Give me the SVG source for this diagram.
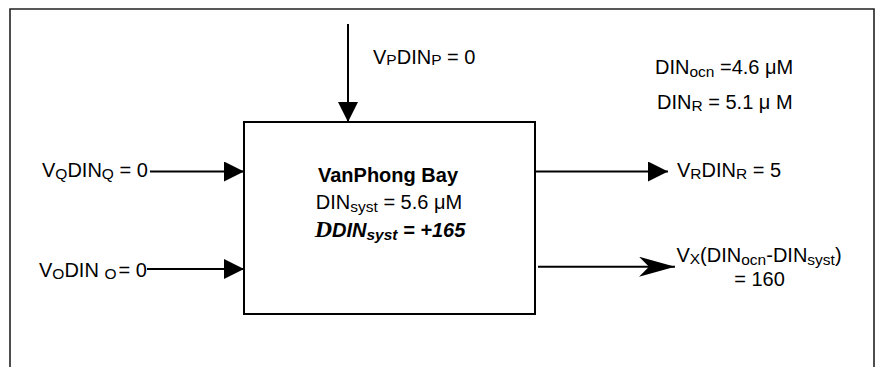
<svg xmlns="http://www.w3.org/2000/svg" width="876" height="367" viewBox="0 0 876 367">
<style>
text{font-family:"Liberation Sans",Arial,sans-serif;font-size:20px;fill:#000}
.b{font-weight:bold}
.bi{font-weight:bold;font-style:italic}
.delta{font-family:"Liberation Serif","Times New Roman",serif;font-weight:bold;font-style:italic;font-size:24px}
.s{font-size:15.5px}
.ln{stroke:#000;stroke-width:2;fill:none}
.frame{stroke:#222;stroke-width:1.6;fill:none}
</style>
<defs>
<marker id="tri" markerUnits="userSpaceOnUse" viewBox="0 0 20 20" markerWidth="20" markerHeight="20" refX="20" refY="10" orient="auto">
<path d="M0,0 L20,10 L0,20 z" fill="#000"/>
</marker>
<marker id="stealth" markerUnits="userSpaceOnUse" viewBox="0 0 36 20" markerWidth="36" markerHeight="20" refX="36" refY="10" orient="auto">
<path d="M0,0 L36,10 L0,20 L10,10 z" fill="#000"/>
</marker>
</defs>
<g id="frame">
<polyline class="frame" points="10,367 10,9 874,9 874,367"/>
</g>
<g id="bay">
<rect class="ln" x="244" y="122" width="291" height="192" fill="#fff"/>
<text class="b" x="388" y="182" text-anchor="middle">VanPhong Bay</text>
<text x="389" y="209" text-anchor="middle">DIN<tspan class="s" dy="3">syst</tspan><tspan dy="-3"> = 5.6 μM</tspan></text>
<text class="bi" x="390" y="237" text-anchor="middle"><tspan class="delta">D</tspan>DIN<tspan class="s" dy="3">syst</tspan><tspan dy="-3"> = +165</tspan></text>
</g>
<g id="ocean-conc">
<text x="655" y="74">DIN<tspan class="s" dy="3">ocn</tspan><tspan dy="-3"> =4.6 μM</tspan></text>
<text x="657" y="109">DIN<tspan class="s" dy="1.5">R</tspan><tspan dy="-1.5"> = 5.1 μ M</tspan></text>
</g>
<g id="in-P">
<text x="373" y="64">V<tspan class="s" dy="1">P</tspan><tspan dy="-1">DIN</tspan><tspan class="s" dy="1">P</tspan><tspan dy="-1"> = 0</tspan></text>
</g>
<g id="in-Q">
<text x="42" y="177">V<tspan class="s" dy="1.5">Q</tspan><tspan dy="-1.5">DIN</tspan><tspan class="s" dy="1.5">Q</tspan><tspan dy="-1.5"> = 0</tspan></text>
</g>
<g id="in-O">
<text x="39" y="277">V<tspan class="s" dy="1.5">O</tspan><tspan dy="-1.5">DIN </tspan><tspan class="s" dy="1.5">O</tspan><tspan dy="-1.5" dx="2">= 0</tspan></text>
</g>
<g id="out-R">
<text x="677" y="177">V<tspan class="s" dy="1.5">R</tspan><tspan dy="-1.5">DIN</tspan><tspan class="s" dy="1.5">R</tspan><tspan dy="-1.5"> = 5</tspan></text>
</g>
<g id="out-X">
<text x="759" y="262" text-anchor="middle">V<tspan class="s" dy="2">X</tspan><tspan dy="-2">(DIN</tspan><tspan class="s" dy="3">ocn</tspan><tspan dy="-3">-DIN</tspan><tspan class="s" dy="3">syst</tspan><tspan dy="-3">)</tspan></text>
<text x="759.5" y="286" text-anchor="middle">= 160</text>
</g>
<g id="connectors">
<line class="ln" x1="348" y1="24" x2="348" y2="122" marker-end="url(#tri)"/>
<line class="ln" x1="150" y1="171.5" x2="244" y2="171.5" marker-end="url(#tri)"/>
<line class="ln" x1="147" y1="269" x2="244" y2="269" marker-end="url(#tri)"/>
<line class="ln" x1="535" y1="171.5" x2="668" y2="171.5" marker-end="url(#tri)"/>
<line class="ln" x1="538" y1="266.7" x2="675" y2="266.7" marker-end="url(#stealth)"/>
</g>
</svg>
